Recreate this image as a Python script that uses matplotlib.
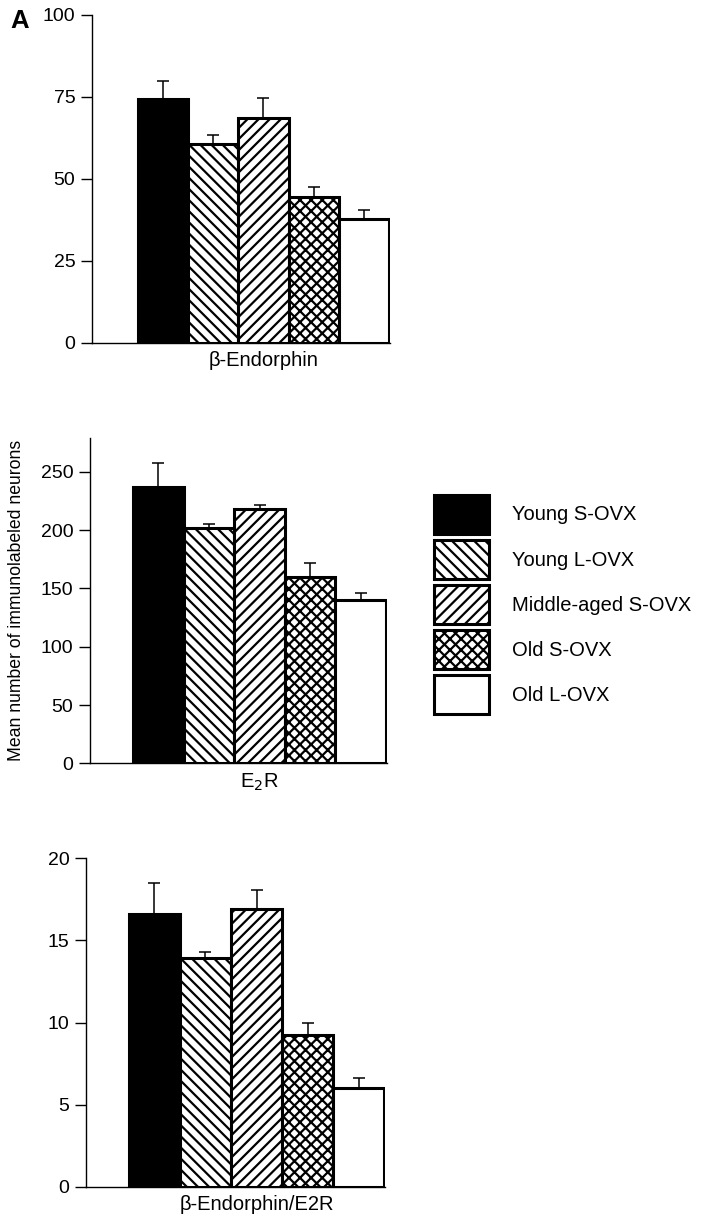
import numpy as np
import matplotlib.pyplot as plt
from matplotlib.patches import Patch

plt.rcParams['font.family'] = ['Liberation Sans', 'DejaVu Sans']
plt.rcParams['hatch.linewidth'] = 1.6

groups = ["Young S-OVX", "Young L-OVX", "Middle-aged S-OVX", "Old S-OVX", "Old L-OVX"]
colors = ["black", "white", "white", "white", "white"]
hatches = [None, "\\\\\\", "///", "xxx", None]

# panel 1: beta-endorphin
bend_mean = [74.4, 60.6, 68.6, 44.5, 37.7]
bend_err = [5.5, 2.8, 6.1, 3.0, 2.7]
# panel 2: E2R
e2r_mean = [237, 202, 218.5, 159.5, 140]
e2r_err = [20.5, 3.5, 3.0, 12.5, 6.2]
# panel 3: ratio
ratio_mean = [16.6, 13.9, 16.9, 9.25, 6.0]
ratio_err = [1.9, 0.4, 1.2, 0.75, 0.65]

panels = [
    (bend_mean, bend_err, [0, 25, 50, 75, 100], 100, "β-Endorphin", [0.1305, 0.7184, 0.4225, 0.2693], -0.92),
    (e2r_mean, e2r_err, [0, 50, 100, 150, 200, 250], 279, "E$_2$R", [0.1277, 0.3733, 0.4213, 0.2671], -0.85),
    (ratio_mean, ratio_err, [0, 5, 10, 15, 20], 20, "β-Endorphin/E2R", [0.122, 0.0257, 0.4243, 0.2696], -0.84),
]

fig = plt.figure(figsize=(7.05, 12.18), dpi=100)
x = np.arange(len(groups))

for mean, err, yticks, ytop, label, rect, xleft in panels:
    ax = fig.add_axes(rect)
    ax.bar(x, mean, width=1.0, align="edge", color=colors, edgecolor="black",
           linewidth=2.2, hatch=hatches, zorder=2)
    ax.errorbar(x + 0.5, mean, yerr=[np.zeros(len(mean)), err], fmt="none",
                ecolor="black", elinewidth=1.1, capsize=4.5, capthick=1.1, zorder=1)
    ax.set_xlim(xleft, 5.02)
    ax.set_ylim(0, ytop)
    ax.set_yticks(yticks)
    ax.set_xticks([2.5])
    ax.set_xticklabels([label])
    ax.tick_params(axis="x", length=0, pad=6, labelsize=14.5)
    ax.tick_params(axis="y", length=8, width=1, pad=4, labelsize=14)
    for s in ["top", "right"]:
        ax.spines[s].set_visible(False)
    ax.spines["left"].set_linewidth(1)
    ax.spines["bottom"].set_linewidth(1)

handles = [Patch(facecolor=c, edgecolor="black", linewidth=2.2, hatch=h) for c, h in zip(colors, hatches)]
fig.legend(handles, groups, loc="upper left", bbox_to_anchor=(0.601, 0.6020), frameon=False,
           fontsize=14.5, handlelength=2.73, handleheight=2.61, labelspacing=0.3,
           handletextpad=1.15, borderpad=0)

fig.text(0.024, 0.507, "Mean number of immunolabeled neurons", rotation=90,
         ha="center", va="center", fontsize=12.7)
fig.text(0.028, 0.9926, "A", fontsize=18.5, fontweight="bold", ha="center", va="top")

fig.savefig("out.png", dpi=100)
